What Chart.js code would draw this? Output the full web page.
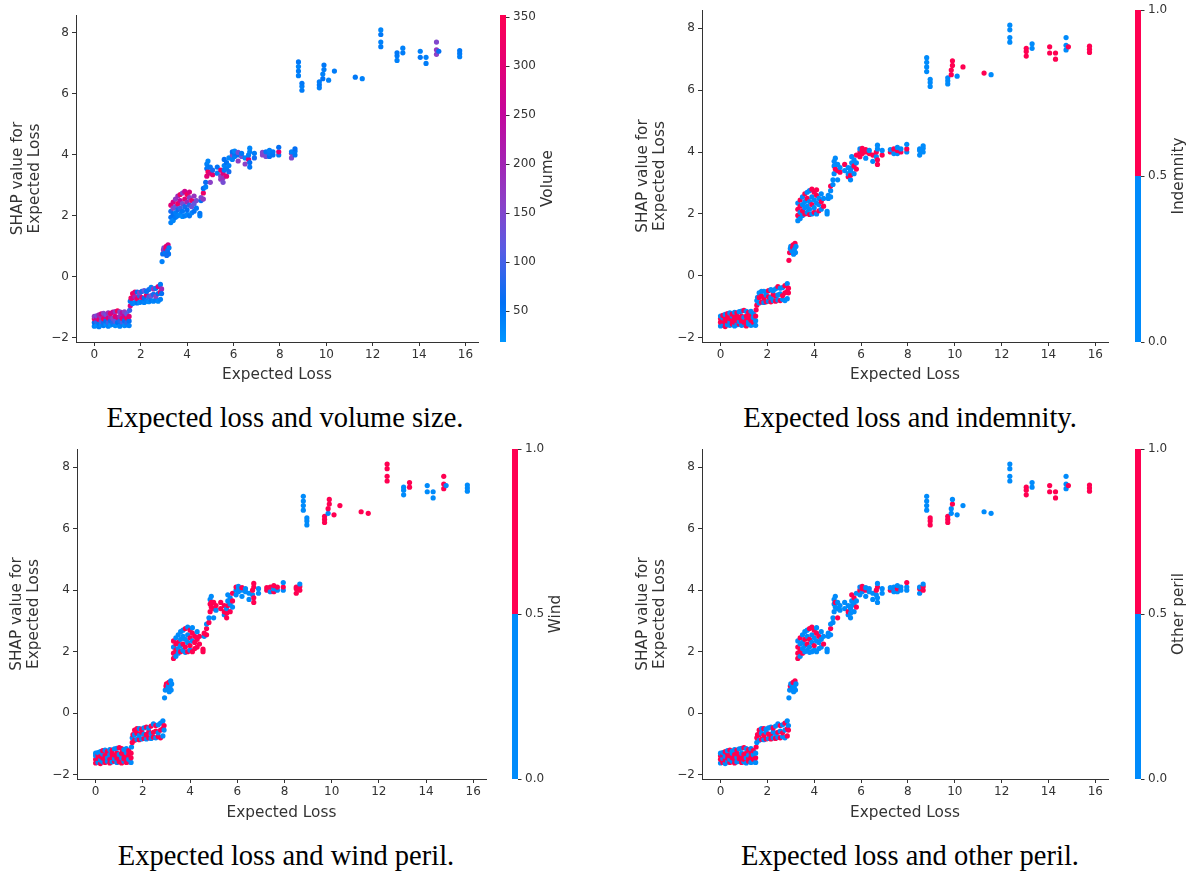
<!DOCTYPE html>
<html>
<head>
<meta charset="utf-8">
<script src="https://cdn.jsdelivr.net/npm/chart.js@4.4.0/dist/chart.umd.min.js"></script>
<style>
  body { margin: 0; background: #fff; }
  #page { position: relative; width: 1194px; height: 872px; overflow: hidden; background: #fff; }
  #page canvas { position: absolute; }
  .cap {
    position: absolute; width: 600px; margin-left: -300px; text-align: center;
    font-family: "Liberation Serif", "Times New Roman", serif; font-size: 28.5px;
    line-height: 32px; white-space: nowrap; color: #000;
  }
</style>
</head>
<body>
<div id="page">
  <canvas id="c1"></canvas>
  <canvas id="c2"></canvas>
  <canvas id="c3"></canvas>
  <canvas id="c4"></canvas>
  <div class="cap" style="left:285px; top:402px;">Expected loss and volume size.</div>
  <div class="cap" style="left:910px; top:402px;">Expected loss and indemnity.</div>
  <div class="cap" style="left:286px; top:840px;">Expected loss and wind peril.</div>
  <div class="cap" style="left:910px; top:840px;">Expected loss and other peril.</div>
</div>
<script>
// x: Expected Loss, y: SHAP value (same points in all four panels)
const expectedLoss = [
  // lowest band
  0,0,0,0, 0.1,0.1,0.1,0.1, 0.2,0.2,0.2,0.2, 0.3,0.3,0.3,0.3, 0.4,0.4,0.4,0.4,
  0.5,0.5,0.5,0.5, 0.6,0.6,0.6,0.6, 0.7,0.7,0.7,0.7, 0.8,0.8,0.8,0.8, 0.9,0.9,0.9,0.9,
  1.0,1.0,1.0,1.0, 1.1,1.1,1.1,1.1, 1.2,1.2,1.2,1.2, 1.3,1.3,1.3,1.3, 1.4,1.4,1.4,1.4,
  1.5,1.5,1.5,1.52,1.55,1.55,1.58,
  // second step
  1.65,1.65,1.65, 1.75,1.75,1.75, 1.85,1.85,1.85, 1.95,1.95,1.95, 2.05,2.05,2.05, 2.15,2.15,2.15,
  2.25,2.25,2.25, 2.35,2.35,2.35, 2.45,2.45,2.45, 2.55,2.55,2.55, 2.65,2.65,2.65, 2.75,2.75,2.75,
  2.85,2.85,2.85, 2.9,2.9,
  // around 3
  2.92,2.95,2.98,3.0,3.05,3.08,3.1,3.15,3.18,3.22,3.2,3.12,
  // 3.3 - 4.8
  3.3,3.3,3.3,3.3, 3.4,3.4,3.4,3.4, 3.5,3.5,3.5,3.5, 3.6,3.6,3.6,3.6, 3.7,3.7,3.7,3.7,
  3.8,3.8,3.8,3.8, 3.9,3.9,3.9,3.9, 4.0,4.0,4.0,4.0, 4.1,4.1,4.1,4.1, 4.2,4.2,4.2,
  4.3,4.3,4.3, 4.4,4.4, 4.55,4.55, 4.6,4.6, 4.7,4.7,4.7, 4.8,4.8,
  // 4.85 - 5.8
  4.85,4.85,4.85, 4.9,4.9,4.9, 5.0,5.0,5.0, 5.1,5.1, 5.3,5.3, 5.45,5.45,5.45,
  5.55,5.55,5.55, 5.6,5.6,5.6, 5.7,5.7,5.7, 5.8,5.8,5.8,
  // plateau near 4
  5.95,5.95,5.95, 6.05,6.05,6.05, 6.2,6.2,6.2, 6.35,6.35, 6.5,6.5, 6.65,6.65, 6.7,6.7,6.7,6.7,
  6.9,6.9, 7.25,7.25, 7.4,7.4, 7.55,7.55,7.55, 7.7,7.7, 7.95,7.95,7.95, 8.5,8.5,8.5, 8.65,8.65,8.65,
  // high losses
  8.8,8.8,8.8,8.8, 8.95,8.95,8.95, 9.7,9.7,9.7, 9.85,9.85, 9.9,9.9, 10.1, 10.35, 11.25, 11.55,
  12.35,12.35,12.35,12.35, 13.05,13.05,13.05, 13.3,13.3, 14.05,14.05, 14.3,14.3,
  14.75,14.75,14.75, 14.85, 15.75,15.75,15.75
];

const shapValue = [
  -1.62,-1.5,-1.38,-1.3, -1.6,-1.47,-1.36,-1.28, -1.64,-1.52,-1.4,-1.25, -1.58,-1.46,-1.33,-1.22, -1.6,-1.5,-1.38,-1.2,
  -1.56,-1.45,-1.3,-1.24, -1.62,-1.5,-1.35,-1.18, -1.58,-1.44,-1.32,-1.2, -1.56,-1.48,-1.36,-1.16, -1.6,-1.46,-1.3,-1.14,
  -1.58,-1.5,-1.34,-1.12, -1.62,-1.45,-1.3,-1.15, -1.56,-1.48,-1.36,-1.18, -1.6,-1.44,-1.28,-1.15, -1.58,-1.5,-1.35,-1.22,
  -1.6,-1.45,-1.3,-1.1,-0.95,-0.8,-0.7,
  -0.88,-0.7,-0.55, -0.85,-0.65,-0.5, -0.86,-0.72,-0.5, -0.84,-0.62,-0.52, -0.82,-0.68,-0.48, -0.84,-0.7,-0.45,
  -0.8,-0.6,-0.48, -0.82,-0.66,-0.42, -0.78,-0.62,-0.35, -0.8,-0.58,-0.4, -0.76,-0.64,-0.38, -0.8,-0.55,-0.32,
  -0.74,-0.5,-0.25, -0.4,-0.55,
  0.5,0.75,0.88,0.95,0.8,0.92,1.0,0.85,1.05,0.95,0.75,0.7,
  1.78,1.95,2.15,2.35, 1.85,2.05,2.25,2.45, 1.95,2.1,2.3,2.55, 2.0,2.2,2.4,2.65, 2.05,2.25,2.5,2.7,
  1.98,2.15,2.4,2.75, 2.0,2.3,2.55,2.8, 2.05,2.2,2.45,2.7, 2.0,2.35,2.6,2.78, 2.1,2.3,2.5,
  2.15,2.4,2.65, 2.25,2.5, 2.0,2.08, 2.5,2.6, 2.55,2.75,2.9, 2.95,3.1,
  3.3,3.55,3.7, 3.45,3.6,3.8, 3.1,3.4,3.6, 3.35,3.5, 3.4,3.6, 3.2,3.3,3.5,
  3.1,3.25,3.4, 3.5,3.65,3.85, 3.3,3.55,3.75, 3.45,3.65,3.9,
  3.85,4.0,4.1, 3.95,4.05,4.12, 3.8,4.0,4.08, 3.95,4.05, 3.7,3.9, 3.85,4.0, 3.6,3.75,4.1,4.22,
  3.9,4.05, 4.0,4.08, 3.95,4.1, 3.95,4.05,4.15, 4.0,4.1, 4.0,4.1,4.25, 3.9,4.05,4.1, 4.0,4.12,4.2,
  6.6,6.75,6.9,7.05, 6.12,6.25,6.35, 6.2,6.3,6.4, 6.5,6.65, 6.8,6.95, 6.45, 6.75, 6.55, 6.5,
  7.55,7.7,7.95,8.1, 7.1,7.25,7.35, 7.35,7.5, 7.2,7.4, 7.0,7.2,
  7.3,7.45,7.7, 7.4, 7.22,7.32,7.42
];

// colour features
const volume = [
  35,60,320,170, 28,90,260,140, 40,50,300,210, 32,110,180,280, 45,70,330,160,
  30,55,240,130, 38,95,290,190, 26,65,210,310, 42,80,150,260, 33,120,300,180,
  29,58,270,340, 36,75,190,150, 44,100,320,230, 31,62,250,170, 39,85,340,120,
  40,60,300,90,280,50,330,
  40,290,330, 35,200,310, 50,320,60, 30,80,150, 45,300,70, 38,60,120,
  42,310,55, 30,90,65, 48,130,40, 36,70,180, 44,160,50, 32,60,290,
  40,320,48, 200,60,
  40,60,170,150,50,300,330,70,280,45,55,65,
  40,55,70,300, 35,60,150,280, 50,45,130,170, 42,65,320,190, 38,90,250,330,
  30,50,140,160, 44,70,300,270, 36,60,200,340, 48,80,160,290, 40,130,310,
  55,120,180, 45,140, 38,50, 60,150, 170,320,60, 40,65,
  300,60,40, 330,45,35, 160,280,50, 310,70, 40,55, 170,150,320,
  140,180,290, 50,40,60, 300,45,55, 70,40,35,
  40,150,60, 45,55,35, 170,60,140, 130,50, 160,40, 300,45, 50,60,40,35,
  70,45, 160,150, 140,50, 60,45,40, 55,50, 45,300,60, 150,170,40, 50,45,60,
  40,45,35,50, 45,40,50, 40,50,45, 55,40, 45,50, 40, 45, 50, 40,
  45,40,50,35, 40,45,50, 45,40, 50,40, 45,40,
  160,170,150, 60, 40,45,50
];

const indemnity = [
  0,1,1,0, 0,1,0,1, 1,1,1,0, 0,1,1,1, 0,0,1,0,
  1,1,0,1, 0,1,1,0, 0,1,1,1, 1,0,1,0, 0,1,1,0,
  0,1,0,1, 1,1,1,0, 0,0,1,1, 0,1,1,0, 0,1,0,0,
  0,0,1,1,1,0,0,
  0,1,0, 1,1,0, 0,1,0, 1,0,0, 0,1,1, 1,0,0,
  0,1,0, 1,1,0, 0,0,1, 1,0,0, 0,1,0, 0,1,1,
  0,1,0, 1,1,
  1,1,0,0,0,1,1,0,1,0,0,0,
  0,1,1,0, 0,0,1,1, 0,1,0,0, 1,0,0,1, 0,0,1,0,
  1,0,0,0, 0,1,0,1, 1,0,0,1, 0,0,1,1, 1,0,0,
  0,1,0, 1,0, 0,0, 0,0, 0,0,1, 0,0,
  0,0,0, 1,0,0, 0,1,0, 1,0, 0,1, 1,0,0,
  0,1,0, 0,0,0, 0,1,0, 1,0,1,
  1,1,0, 1,1,1, 0,1,1, 1,0, 0,1, 0,1, 1,1,0,0,
  1,0, 1,0, 0,1, 0,1,0, 1,0, 0,1,0, 0,0,0, 0,0,0,
  0,0,0,0, 0,0,0, 0,0,0, 1,1, 1,1, 0, 1, 1, 0,
  0,0,0,0, 1,1,1, 0,0, 1,1, 1,1,
  0,0,0, 1, 1,1,1
];

const wind = [
  1,1,0,0, 0,1,1,0, 1,0,1,0, 0,1,0,1, 1,1,1,0,
  0,0,1,1, 1,1,0,0, 0,1,1,1, 1,0,1,0, 0,1,1,0,
  1,1,0,1, 1,0,1,1, 0,1,1,0, 1,1,0,0, 1,0,1,1,
  0,1,1,0,1,0,1,
  1,0,1, 0,1,1, 1,0,0, 0,1,1, 1,0,0, 0,1,1,
  1,1,0, 0,0,1, 1,1,0, 0,1,1, 1,0,0, 1,1,0,
  0,1,0, 1,0,
  0,0,1,1,0,0,1,0,0,0,0,0,
  1,1,0,1, 0,1,1,0, 0,0,1,0, 1,0,0,0, 0,1,0,0,
  0,1,0,1, 1,0,0,0, 0,1,1,1, 1,0,1,0, 1,1,1,
  1,1,0, 1,1, 1,1, 0,1, 1,1,0, 1,0,
  1,1,0, 1,1,0, 0,1,1, 0,1, 1,1, 0,1,1,
  1,1,0, 1,0,0, 1,0,0, 0,1,1,
  0,0,1, 0,0,0, 0,0,1, 0,0, 0,0, 0,1, 1,1,1,1,
  0,0, 1,1, 0,1, 1,0,1, 0,1, 0,1,0, 1,1,1, 1,1,0,
  0,0,0,0, 0,0,0, 1,1,1, 0,1, 1,1, 1, 1, 1, 1,
  1,1,1,1, 0,0,0, 1,1, 0,0, 0,0,
  1,1,1, 0, 0,0,0
];

const otherPeril = [
  0,1,1,0, 1,0,1,0, 0,1,0,1, 0,1,1,0, 1,0,1,1,
  0,1,0,0, 1,1,1,0, 0,0,1,1, 0,1,1,0, 1,1,0,0,
  0,1,1,1, 0,0,1,0, 1,1,0,1, 0,1,1,0, 0,1,0,1,
  0,1,0,1,0,1,1,
  0,1,1, 1,0,0, 0,1,1, 1,0,0, 0,1,0, 1,1,0,
  0,0,1, 1,0,0, 0,1,0, 1,0,1, 0,1,0, 0,0,1,
  1,1,0, 0,1,
  0,0,1,0,0,0,1,0,1,0,0,0,
  1,1,1,0, 0,1,0,1, 1,0,0,0, 0,0,1,0, 0,1,0,0,
  0,0,1,1, 0,0,0,1, 0,1,0,1, 0,0,1,0, 0,0,1,
  0,0,0, 1,0, 0,0, 0,0, 0,1,0, 0,0,
  0,0,0, 0,1,0, 1,0,0, 0,0, 0,0, 0,1,0,
  0,0,0, 0,0,1, 0,0,1, 1,0,0,
  0,1,0, 0,1,1, 0,1,0, 0,0, 0,0, 0,1, 0,0,1,0,
  0,0, 1,0, 0,0, 0,1,0, 0,0, 0,0,1, 0,1,0, 1,1,0,
  0,0,0,0, 1,1,1, 1,1,1, 0,0, 1,0, 0, 0, 0, 0,
  0,0,0,0, 1,1,1, 0,0, 1,1, 1,1,
  0,0,0, 1, 1,1,1
];

// tick labels
const xTicks = [0, 2, 4, 6, 8, 10, 12, 14, 16];
const yTicks = [-2, 0, 2, 4, 6, 8];
const volumeTicks = [50, 100, 150, 200, 250, 300, 350];
const binaryTicks = [0, 0.5, 1];

const BLUE = '#008bfb';
const RED = '#ff0051';
const AXIS = '#333333';
const FONT = "'DejaVu Sans', sans-serif";
const TICK_SIZE = 12;
const LABEL_SIZE = 15.3;

// red-blue colour map (bottom -> top)
const cmapStops = [
  [0.00, [0, 150, 255]],
  [0.12, [0, 112, 245]],
  [0.28, [88, 92, 228]],
  [0.42, [138, 66, 200]],
  [0.56, [165, 34, 178]],
  [0.70, [196, 6, 156]],
  [0.85, [228, 0, 116]],
  [1.00, [255, 0, 82]]
];

function cmap(t) {
  t = Math.max(0, Math.min(1, t));
  for (let i = 1; i < cmapStops.length; i++) {
    const [t1, c1] = cmapStops[i];
    const [t0, c0] = cmapStops[i - 1];
    if (t <= t1) {
      const f = (t - t0) / (t1 - t0);
      const c = c0.map((v, k) => Math.round(v + (c1[k] - v) * f));
      return `rgb(${c[0]},${c[1]},${c[2]})`;
    }
  }
  return 'rgb(255,0,82)';
}

// keep axes from pushing the plot area around
function noPadding(s) {
  s.paddingTop = 0;
  s.paddingBottom = 0;
  s.paddingLeft = 0;
  s.paddingRight = 0;
}

// Colour bar plugin: draws the bar next to the 'cb' scale
const colourBar = {
  id: 'colourBar',
  afterDraw(chart, args, opts) {
    const s = chart.scales.cb;
    const ctx = chart.ctx;
    const yTop = s.getPixelForValue(s.max);
    const yBot = s.getPixelForValue(s.min);
    const x = opts.barX;
    ctx.save();
    if (opts.continuous) {
      const g = ctx.createLinearGradient(0, yBot, 0, yTop);
      cmapStops.forEach(([t, c]) => g.addColorStop(t, `rgb(${c[0]},${c[1]},${c[2]})`));
      ctx.fillStyle = g;
      ctx.fillRect(x, yTop, opts.barW, yBot - yTop);
    } else {
      const yMid = s.getPixelForValue(0.5);
      ctx.fillStyle = RED;
      ctx.fillRect(x, yTop, opts.barW, yMid - yTop);
      ctx.fillStyle = BLUE;
      ctx.fillRect(x, yMid, opts.barW, yBot - yMid);
    }
    // tick marks
    ctx.strokeStyle = AXIS;
    ctx.lineWidth = 1;
    s.ticks.forEach(t => {
      const y = Math.round(s.getPixelForValue(t.value)) + 0.5;
      ctx.beginPath();
      ctx.moveTo(x + opts.barW, y);
      ctx.lineTo(x + opts.barW + 3.5, y);
      ctx.stroke();
    });
    // label
    ctx.font = `${TICK_SIZE}px ${FONT}`;
    let maxW = 0;
    s.ticks.forEach(t => { maxW = Math.max(maxW, ctx.measureText(t.label).width); });
    const tx = x + opts.barW + opts.gap + maxW + 12;
    ctx.translate(tx, (yTop + yBot) / 2);
    ctx.rotate(-Math.PI / 2);
    ctx.font = `${LABEL_SIZE}px ${FONT}`;
    ctx.fillStyle = AXIS;
    ctx.textAlign = 'center';
    ctx.textBaseline = 'middle';
    ctx.fillText(opts.label, 0, 0);
    ctx.restore();
  }
};

// panel layout (page pixels)
const panels = [
  { id: 'c1', left: 0, top: 0, w: 600, h: 395, area: { l: 76, t: 15, r: 478, b: 342 }, barLeft: 500,
    yTitleX: 18, xTitleY: 375, colours: volume, continuous: true, cbMin: 18, cbMax: 352, cbTicks: volumeTicks, label: 'Volume' },
  { id: 'c2', left: 600, top: 0, w: 594, h: 395, area: { l: 102, t: 10, r: 508, b: 342 }, barLeft: 1135,
    yTitleX: 43, xTitleY: 375, colours: indemnity, continuous: false, cbMin: 0, cbMax: 1, cbTicks: binaryTicks, label: 'Indemnity' },
  { id: 'c3', left: 0, top: 435, w: 600, h: 400, area: { l: 77, t: 14, r: 486, b: 344 }, barLeft: 512,
    yTitleX: 17, xTitleY: 378, colours: wind, continuous: false, cbMin: 0, cbMax: 1, cbTicks: binaryTicks, label: 'Wind' },
  { id: 'c4', left: 600, top: 435, w: 594, h: 400, area: { l: 102, t: 14, r: 508, b: 344 }, barLeft: 1135,
    yTitleX: 43, xTitleY: 378, colours: otherPeril, continuous: false, cbMin: 0, cbMax: 1, cbTicks: binaryTicks, label: 'Other peril' }
];

const points = expectedLoss.map((x, i) => ({ x: x, y: shapValue[i] }));

panels.forEach(p => {
  const canvas = document.getElementById(p.id);
  canvas.width = p.w;
  canvas.height = p.h;
  canvas.style.left = p.left + 'px';
  canvas.style.top = p.top + 'px';

  const barX = p.barLeft - p.left;
  const barW = 6;
  const gap = 7;
  const pointColour = p.continuous
    ? v => cmap((v - p.cbMin) / (p.cbMax - p.cbMin))
    : v => (v ? RED : BLUE);
  const titleLine = LABEL_SIZE * 1.13;

  new Chart(canvas.getContext('2d'), {
    type: 'scatter',
    data: {
      datasets: [{
        data: points,
        pointRadius: 2.6,
        pointHoverRadius: 2.6,
        borderWidth: 0,
        pointBorderWidth: 0,
        backgroundColor: ctx => pointColour(p.colours[ctx.dataIndex]),
        borderColor: 'rgba(0,0,0,0)'
      }]
    },
    options: {
      responsive: false,
      animation: false,
      events: [],
      layout: { padding: { left: 0, top: p.area.t, right: 0, bottom: 0 } },
      plugins: {
        legend: { display: false },
        tooltip: { enabled: false },
        colourBar: { barX: barX, barW: barW, gap: gap, continuous: p.continuous, label: p.label }
      },
      scales: {
        x: {
          type: 'linear',
          position: 'bottom',
          min: -0.79,
          max: 16.54,
          afterBuildTicks: s => { s.ticks = xTicks.map(v => ({ value: v })); },
          afterFit: s => { s.height = p.h - p.area.b; noPadding(s); },
          grid: { drawOnChartArea: false, drawTicks: true, tickLength: 4, tickColor: AXIS, tickWidth: 1 },
          border: { display: true, color: AXIS, width: 1 },
          ticks: { color: AXIS, font: { family: FONT, size: TICK_SIZE }, padding: 2, maxRotation: 0, autoSkip: false },
          title: {
            display: true, text: 'Expected Loss', color: AXIS,
            font: { family: FONT, size: LABEL_SIZE, lineHeight: 1.13 },
            padding: { top: 4, bottom: p.h - p.xTitleY - titleLine / 2 }
          }
        },
        y: {
          type: 'linear',
          position: 'left',
          min: -2.14,
          max: 8.59,
          afterBuildTicks: s => { s.ticks = yTicks.map(v => ({ value: v })); },
          afterFit: s => { s.width = p.area.l; noPadding(s); },
          grid: { drawOnChartArea: false, drawTicks: true, tickLength: 4, tickColor: AXIS, tickWidth: 1 },
          border: { display: true, color: AXIS, width: 1 },
          ticks: {
            color: AXIS, font: { family: FONT, size: TICK_SIZE }, padding: 3,
            callback: v => String(v).replace('-', '\u2212')
          },
          title: {
            display: true, text: ['SHAP value for', 'Expected Loss'], color: AXIS,
            font: { family: FONT, size: LABEL_SIZE, lineHeight: 1.13 },
            padding: { top: p.yTitleX - titleLine / 2, bottom: 0 }
          }
        },
        cb: {
          type: 'linear',
          axis: 'y',
          position: 'right',
          min: p.cbMin,
          max: p.cbMax,
          afterBuildTicks: s => { s.ticks = p.cbTicks.map(v => ({ value: v })); },
          afterFit: s => { s.width = p.w - p.area.r; noPadding(s); },
          grid: { display: false, drawTicks: false },
          border: { display: false },
          ticks: {
            color: AXIS, font: { family: FONT, size: TICK_SIZE },
            padding: barX + barW + gap - p.area.r,
            callback: v => (p.continuous ? String(v) : Number(v).toFixed(1))
          }
        }
      }
    },
    plugins: [colourBar]
  });
});
</script>
</body>
</html>
